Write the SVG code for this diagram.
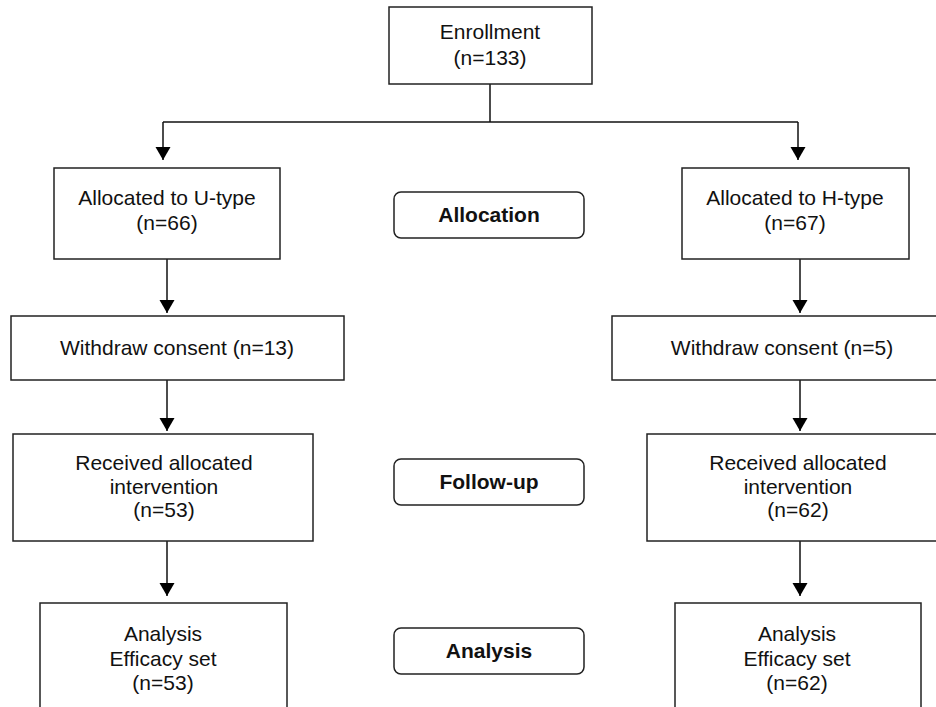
<svg xmlns="http://www.w3.org/2000/svg" width="936" height="707" viewBox="0 0 936 707">
<defs>
<style>
.box{fill:#fff;stroke:#222;stroke-width:1.5}
.tag{fill:#fff;stroke:#222;stroke-width:1.5}
.t{font-family:"Liberation Sans",Arial,sans-serif;font-size:21px;fill:#111;text-anchor:middle}
.b{font-family:"Liberation Sans",Arial,sans-serif;font-size:21px;font-weight:bold;fill:#111;text-anchor:middle}
.c{fill:none;stroke:#111;stroke-width:1.5}
</style>
<marker id="ah" markerUnits="userSpaceOnUse" markerWidth="14" markerHeight="16" refX="13" refY="7.5" orient="auto" viewBox="0 0 14 16">
<path d="M0,0 L13,7.5 L0,15 z" fill="#000"/>
</marker>
</defs>
<rect width="936" height="707" fill="#fff"/>
<g id="connectors">
<line class="c" x1="490" y1="84" x2="490" y2="122"/>
<line class="c" x1="163" y1="122" x2="798" y2="122"/>
<line class="c" x1="163" y1="122" x2="163" y2="160" marker-end="url(#ah)"/>
<line class="c" x1="798" y1="122" x2="798" y2="160" marker-end="url(#ah)"/>
<line class="c" x1="167" y1="259" x2="167" y2="313" marker-end="url(#ah)"/>
<line class="c" x1="800" y1="259" x2="800" y2="313" marker-end="url(#ah)"/>
<line class="c" x1="167" y1="380" x2="167" y2="431" marker-end="url(#ah)"/>
<line class="c" x1="800" y1="380" x2="800" y2="431" marker-end="url(#ah)"/>
<line class="c" x1="167" y1="541" x2="167" y2="596" marker-end="url(#ah)"/>
<line class="c" x1="800" y1="541" x2="800" y2="596" marker-end="url(#ah)"/>
</g>
<g id="enrollment">
<rect class="box" x="389" y="7" width="203" height="77"/>
<text class="t" x="490" y="39">Enrollment</text>
<text class="t" x="490" y="65">(n=133)</text>
</g>
<g id="alloc-u">
<rect class="box" x="54" y="168" width="226" height="91"/>
<text class="t" x="167" y="205">Allocated to U-type</text>
<text class="t" x="167" y="230">(n=66)</text>
</g>
<g id="alloc-h">
<rect class="box" x="682" y="168" width="227" height="91"/>
<text class="t" x="795" y="205">Allocated to H-type</text>
<text class="t" x="795" y="230">(n=67)</text>
</g>
<g id="label-allocation">
<rect class="tag" x="394" y="192" width="190" height="46" rx="7"/>
<text class="b" x="489" y="222">Allocation</text>
</g>
<g id="withdraw-u">
<rect class="box" x="11" y="316" width="333" height="64"/>
<text class="t" x="177" y="355">Withdraw consent (n=13)</text>
</g>
<g id="withdraw-h">
<rect class="box" x="612" y="316" width="340" height="64"/>
<text class="t" x="782" y="355">Withdraw consent (n=5)</text>
</g>
<g id="received-u">
<rect class="box" x="13" y="434" width="300" height="107"/>
<text class="t" x="164" y="470">Received allocated</text>
<text class="t" x="164" y="494">intervention</text>
<text class="t" x="164" y="517">(n=53)</text>
</g>
<g id="received-h">
<rect class="box" x="647" y="434" width="303" height="107"/>
<text class="t" x="798" y="470">Received allocated</text>
<text class="t" x="798" y="494">intervention</text>
<text class="t" x="798" y="517">(n=62)</text>
</g>
<g id="label-followup">
<rect class="tag" x="394" y="459" width="190" height="46" rx="7"/>
<text class="b" x="489" y="489">Follow-up</text>
</g>
<g id="analysis-u">
<rect class="box" x="40" y="603" width="247" height="120"/>
<text class="t" x="163" y="641">Analysis</text>
<text class="t" x="163" y="666">Efficacy set</text>
<text class="t" x="163" y="690">(n=53)</text>
</g>
<g id="analysis-h">
<rect class="box" x="675" y="603" width="246" height="120"/>
<text class="t" x="797" y="641">Analysis</text>
<text class="t" x="797" y="666">Efficacy set</text>
<text class="t" x="797" y="690">(n=62)</text>
</g>
<g id="label-analysis">
<rect class="tag" x="394" y="628" width="190" height="46" rx="7"/>
<text class="b" x="489" y="658">Analysis</text>
</g>
</svg>
